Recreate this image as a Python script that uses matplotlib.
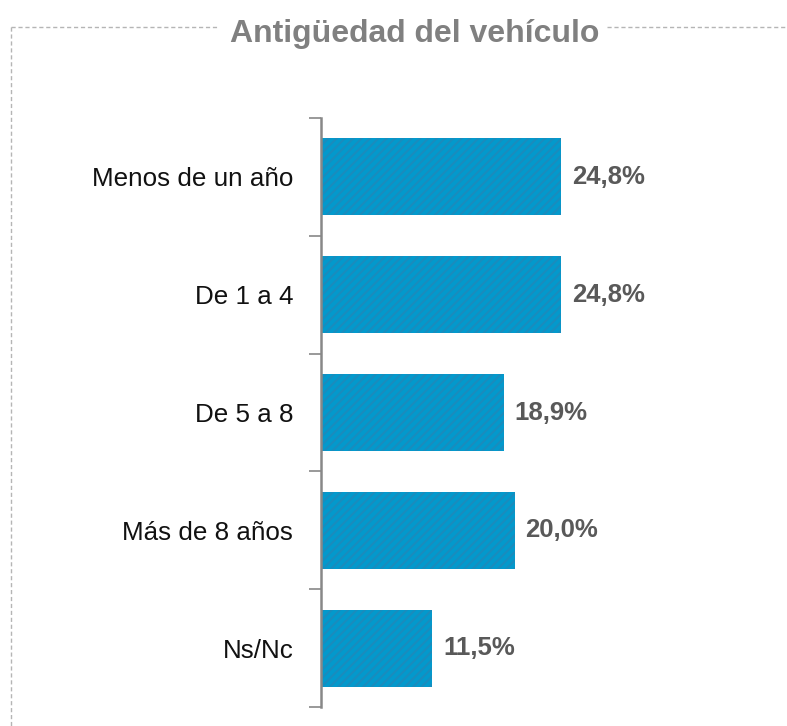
import matplotlib
matplotlib.use("Agg")
import matplotlib.pyplot as plt
from matplotlib.lines import Line2D

plt.rcParams['font.family'] = ['Liberation Sans Narrow', 'Liberation Sans', 'DejaVu Sans']
plt.rcParams['hatch.linewidth'] = 1.5

title = "Antigüedad del vehículo"
categories = ["Menos de un año", "De 1 a 4", "De 5 a 8", "Más de 8 años", "Ns/Nc"]
values = [24.8, 24.8, 18.9, 20.0, 11.5]
value_labels = ["24,8%", "24,8%", "18,9%", "20,0%", "11,5%"]

W, H = 787, 726
fig = plt.figure(figsize=(W / 100, H / 100), dpi=100)
ax = fig.add_axes([321 / W, 1 - 707 / H, (W - 321) / W, (707 - 118) / H])

ypos = list(range(len(categories)))
ax.barh(ypos, values, height=0.655, color='#0399cc', edgecolor='#1a8cbd',
        hatch='////', linewidth=0)

for y, v, lab in zip(ypos, values, value_labels):
    ax.text(v + 1.1, y, lab, va='center', ha='left', fontsize=18.5,
            fontweight='bold', color='#595959')

ax.set_xlim(0, (W - 321) / 9.68)
ax.set_ylim(len(categories) - 0.5, -0.5)
ax.set_yticks(ypos)
ax.set_yticklabels(categories, fontsize=18.7, color='#111111')
ax.tick_params(axis='y', which='major', length=0, pad=20)
ax.set_yticks([i - 0.5 for i in range(len(categories) + 1)], minor=True)
ax.tick_params(axis='y', which='minor', length=9, width=1.2, color='#888888')
ax.set_xticks([])
for s in ['top', 'right', 'bottom']:
    ax.spines[s].set_visible(False)
ax.spines['left'].set_color('#888888')
ax.spines['left'].set_linewidth(1.8)

# dashed frame around the title
fy = 1 - 27 / H
dash = dict(color='#b5b5b5', linewidth=1, linestyle=(0, (3, 2)), transform=fig.transFigure)
fig.add_artist(Line2D([11 / W, 218 / W], [fy, fy], **dash))
fig.add_artist(Line2D([607 / W, 1], [fy, fy], **dash))
fig.add_artist(Line2D([11 / W, 11 / W], [fy, 0], **dash))

fig.text(414.5 / W, 1 - 42 / H, title, ha='center', va='baseline', fontsize=23,
         fontweight='bold', color='#808080')

fig.savefig("out.png", dpi=100)
